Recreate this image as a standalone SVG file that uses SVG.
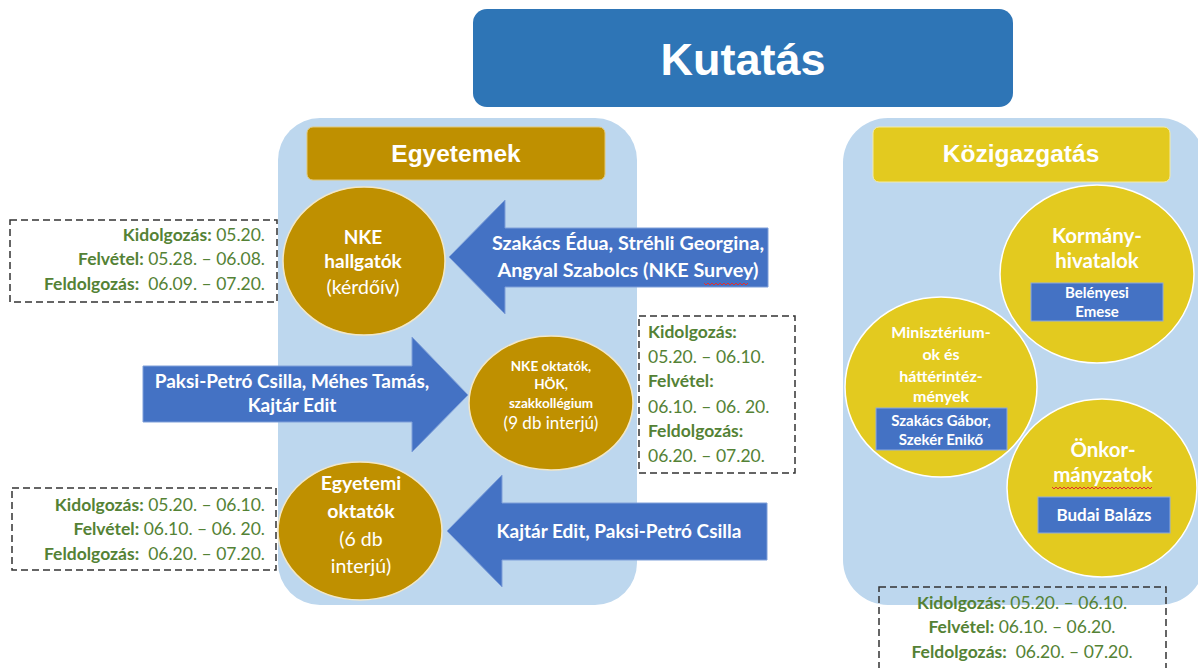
<svg xmlns="http://www.w3.org/2000/svg" width="1198" height="668" viewBox="0 0 1198 668">
<style>
.panel{fill:#BDD7EE}
.gold{fill:#BF9000;stroke:#F3E7C6;stroke-width:1.5}
.yel{fill:#E3CA1F;stroke:#FFFFFF;stroke-width:1.5}
.hdrg{fill:#BF9000;stroke:#E2C878;stroke-width:1}
.hdry{fill:#E3CA1F;stroke:#F4EBA8;stroke-width:1}
.arrow{fill:#4472C4;stroke:#7E9FD9;stroke-width:1}
.nb{fill:#4472C4;stroke:#8FAADC;stroke-width:1}
.dash{fill:none;stroke:#333333;stroke-width:1.5;stroke-dasharray:7 4}
.t{font-family:Lato,'Liberation Sans',sans-serif;fill:#FFFFFF}
.b{font-weight:bold}
.h{font-family:'Liberation Sans',Arial,sans-serif;font-weight:bold;fill:#FFFFFF}
.g{font-family:Lato,'Liberation Sans',sans-serif;fill:#548235;font-size:17.5px}
.sq{fill:none;stroke:#E03030;stroke-width:1}
</style>

<g id="kutatas">
<rect x="473" y="9" width="540" height="98" rx="14" fill="#2E75B6"/>
<text x="743" y="75" class="h" font-size="45" text-anchor="middle">Kutatás</text>
</g>

<g id="egyetemek-panel">
<rect class="panel" x="278" y="118" width="359" height="487" rx="42"/>
<rect class="hdrg" x="307" y="127" width="298" height="53" rx="6"/>
<text x="456" y="162" class="h" font-size="24.5" text-anchor="middle">Egyetemek</text>
</g>

<g id="kozigazgatas-panel">
<rect class="panel" x="843" y="118" width="362" height="487" rx="45"/>
<rect class="hdry" x="873" y="127" width="297" height="55" rx="6"/>
<text x="1021" y="162" class="h" font-size="24.5" text-anchor="middle">Közigazgatás</text>
</g>

<g id="nke-hallgatok">
<ellipse class="gold" cx="364" cy="261" rx="81" ry="74"/>
<text class="t b" x="363" y="244" font-size="19" text-anchor="middle">NKE</text>
<text class="t b" x="363" y="268" font-size="19" text-anchor="middle">hallgatók</text>
<text class="t" x="363" y="294" font-size="19.5" text-anchor="middle">(kérdőív)</text>
</g>

<g id="nke-oktatok">
<ellipse class="gold" cx="551" cy="403" rx="82" ry="67"/>
<text class="t b" x="551" y="371" font-size="13.5" text-anchor="middle">NKE oktatók,</text>
<text class="t b" x="551" y="389" font-size="13.5" text-anchor="middle">HÖK,</text>
<text class="t b" x="551" y="408" font-size="13.5" text-anchor="middle">szakkollégium</text>
<text class="t" x="551" y="429" font-size="17" text-anchor="middle">(9 db interjú)</text>
</g>

<g id="egyetemi-oktatok">
<ellipse class="gold" cx="360" cy="531" rx="82" ry="69"/>
<text class="t b" x="361" y="490" font-size="19.5" text-anchor="middle">Egyetemi</text>
<text class="t b" x="361" y="518" font-size="19.5" text-anchor="middle">oktatók</text>
<text class="t" x="361" y="546" font-size="19.5" text-anchor="middle">(6 db</text>
<text class="t" x="361" y="573" font-size="19.5" text-anchor="middle">interjú)</text>
</g>

<g id="kormanyhivatalok">
<ellipse class="yel" cx="1097" cy="274" rx="97" ry="89"/>
<text class="t b" x="1097" y="243" font-size="20.5" text-anchor="middle">Kormány-</text>
<text class="t b" x="1097" y="268" font-size="20.5" text-anchor="middle">hivatalok</text>
<rect class="nb" x="1031" y="283" width="132" height="38"/>
<text class="t b" x="1097" y="298" font-size="15" text-anchor="middle">Belényesi</text>
<text class="t b" x="1097" y="317" font-size="15" text-anchor="middle">Emese</text>
</g>

<g id="miniszteriumok">
<ellipse class="yel" cx="941" cy="387" rx="96" ry="90"/>
<text class="t b" x="941" y="338" font-size="16" text-anchor="middle">Minisztérium-</text>
<text class="t b" x="941" y="360" font-size="16" text-anchor="middle">ok és</text>
<text class="t b" x="941" y="382" font-size="16" text-anchor="middle">háttérintéz-</text>
<text class="t b" x="941" y="402" font-size="16" text-anchor="middle">mények</text>
<rect class="nb" x="876" y="408" width="131" height="42"/>
<text class="t b" x="941" y="426" font-size="15" text-anchor="middle">Szakács Gábor,</text>
<text class="t b" x="941" y="445" font-size="15" text-anchor="middle">Szekér Enikő</text>
</g>

<g id="onkormanyzatok">
<ellipse class="yel" cx="1102" cy="488" rx="95" ry="89"/>
<text class="t b" x="1103" y="457" font-size="20.5" text-anchor="middle">Önkor-</text>
<text class="t b" x="1103" y="482" font-size="20.5" text-anchor="middle">mányzatok</text>
<path class="sq" d="M1052 487 l2 2 l2 -2 l2 2 l2 -2 l2 2 l2 -2 l2 2 l2 -2 l2 2 l2 -2 l2 2 l2 -2 l2 2 l2 -2 l2 2 l2 -2 l2 2 l2 -2 l2 2 l2 -2 l2 2 l2 -2 l2 2 l2 -2 l2 2 l2 -2 l2 2 l2 -2 l2 2 l2 -2 l2 2 l2 -2 l2 2 l2 -2 l2 2 l2 -2 l2 2 l2 -2 l2 2 l2 -2 l2 2 l2 -2 l2 2 l2 -2 l2 2 l2 -2 l2 2 l2 -2 l2 2 l2 -2"/>
<rect class="nb" x="1038" y="497" width="132" height="36"/>
<text class="t b" x="1104" y="521" font-size="17" text-anchor="middle">Budai Balázs</text>
</g>

<g id="connectors">
<g id="arrow-nke-survey">
<polygon class="arrow" points="449,257 505,200 505,228 768,228 768,287 505,287 505,314"/>
<text class="t b" x="628" y="250" font-size="19.8" text-anchor="middle">Szakács Édua, Stréhli Georgina,</text>
<text class="t b" x="628" y="277" font-size="19.8" text-anchor="middle">Angyal Szabolcs (NKE Survey)</text>
<path class="sq" d="M704 283 l2 2 l2 -2 l2 2 l2 -2 l2 2 l2 -2 l2 2 l2 -2 l2 2 l2 -2 l2 2 l2 -2 l2 2 l2 -2 l2 2 l2 -2 l2 2 l2 -2 l2 2 l2 -2 l2 2 l2 -2"/>
</g>
<g id="arrow-paksi">
<polygon class="arrow" points="143,366 412,366 412,337 468,395 412,452 412,422 143,422"/>
<text class="t b" x="292" y="388" font-size="19" text-anchor="middle">Paksi-Petró Csilla, Méhes Tamás,</text>
<text class="t b" x="292" y="412" font-size="19" text-anchor="middle">Kajtár Edit</text>
</g>
<g id="arrow-kajtar">
<polygon class="arrow" points="447,531 502,475 502,503 767,503 767,560 502,560 502,587"/>
<text class="t b" x="619" y="538" font-size="19" text-anchor="middle">Kajtár Edit, Paksi-Petró Csilla</text>
</g>
</g>

<g id="schedule-hallgatok">
<rect class="dash" x="10" y="220" width="267" height="82"/>
<text class="g" x="265" y="241" text-anchor="end" xml:space="preserve"><tspan font-weight="bold">Kidolgozás:</tspan> 05.20.</text>
<text class="g" x="265" y="265" text-anchor="end" xml:space="preserve"><tspan font-weight="bold">Felvétel:</tspan> 05.28. – 06.08.</text>
<text class="g" x="265" y="290" text-anchor="end" xml:space="preserve"><tspan font-weight="bold">Feldolgozás:</tspan>  06.09. – 07.20.</text>
</g>

<g id="schedule-nke-oktatok">
<rect class="dash" x="639" y="316" width="156" height="157"/>
<text class="g" x="648" y="338" font-weight="bold" font-size="18">Kidolgozás:</text>
<text class="g" x="648" y="363" font-size="18">05.20. – 06.10.</text>
<text class="g" x="648" y="387" font-weight="bold" font-size="18">Felvétel:</text>
<text class="g" x="648" y="413" font-size="18">06.10. – 06. 20.</text>
<text class="g" x="648" y="437" font-weight="bold" font-size="18">Feldolgozás:</text>
<text class="g" x="648" y="462" font-size="18">06.20. – 07.20.</text>
</g>

<g id="schedule-egyetemi">
<rect class="dash" x="12" y="488" width="264" height="82"/>
<text class="g" x="265" y="511" text-anchor="end" xml:space="preserve"><tspan font-weight="bold">Kidolgozás:</tspan> 05.20. – 06.10.</text>
<text class="g" x="265" y="535" text-anchor="end" xml:space="preserve"><tspan font-weight="bold">Felvétel:</tspan> 06.10. – 06. 20.</text>
<text class="g" x="265" y="560" text-anchor="end" xml:space="preserve"><tspan font-weight="bold">Feldolgozás:</tspan>  06.20. – 07.20.</text>
</g>

<g id="schedule-kozigazgatas">
<rect class="dash" x="879" y="587" width="287" height="95"/>
<text class="g" x="1022" y="609" text-anchor="middle" xml:space="preserve"><tspan font-weight="bold">Kidolgozás:</tspan> 05.20. – 06.10.</text>
<text class="g" x="1022" y="633" text-anchor="middle" xml:space="preserve"><tspan font-weight="bold">Felvétel:</tspan> 06.10. – 06.20.</text>
<text class="g" x="1022" y="658" text-anchor="middle" xml:space="preserve"><tspan font-weight="bold">Feldolgozás:</tspan>  06.20. – 07.20.</text>
</g>
</svg>
